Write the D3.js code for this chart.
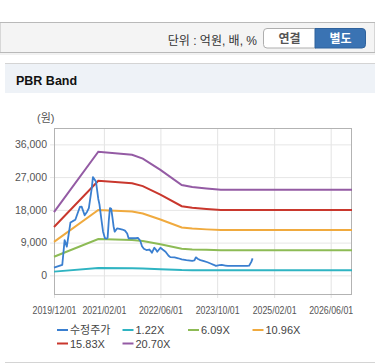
<!DOCTYPE html>
<html>
<head>
<meta charset="utf-8">
<script src="https://cdn.jsdelivr.net/npm/d3@7"></script>
<style>
  body { margin: 0; background: #fff; }
  svg { display: block; font-family: "Liberation Sans", "Noto Sans CJK KR", sans-serif; }
</style>
</head>
<body>
<svg width="375" height="364"></svg>
<script>
// price (수정주가)
const priceDates = ["2019/12/01","2020/01/15","2020/02/10","2020/03/01","2020/03/20","2020/04/20","2020/05/10",
  "2020/06/01","2020/06/20","2020/07/10","2020/07/25","2020/08/20","2020/09/10","2020/09/25","2020/10/20",
  "2020/10/30","2020/11/25","2020/12/15","2020/12/25","2021/01/10","2021/01/25","2021/02/10","2021/02/25",
  "2021/03/05","2021/03/15","2021/03/25","2021/04/05","2021/04/15","2021/04/25","2021/05/05","2021/05/25",
  "2021/06/15","2021/07/10","2021/08/01","2021/08/20","2021/09/01","2021/10/01","2021/11/01","2021/11/20",
  "2021/12/10","2021/12/25","2022/01/10","2022/02/01","2022/02/25","2022/03/10","2022/03/20","2022/04/10",
  "2022/04/25","2022/05/05","2022/06/01","2022/06/20","2022/07/15","2022/08/10","2022/08/25","2022/10/01",
  "2022/11/01","2022/12/01","2023/01/10","2023/03/01","2023/03/20","2023/04/01","2023/04/20","2023/05/10",
  "2023/06/10","2023/07/10","2023/08/10","2023/09/01","2023/09/20","2023/10/20","2023/11/10","2023/12/10",
  "2024/01/01","2024/03/01","2024/05/01","2024/06/15","2024/07/01","2024/07/20","2024/07/31"];
const priceValues = [2100,2600,2900,9700,7900,14500,14900,
  15300,17000,18800,18900,16500,17500,18500,24000,
  27000,25800,21000,19500,15500,12000,10200,10100,
  10300,15000,18500,18300,16000,13500,12000,12900,
  12800,12600,12300,11500,10200,10200,10200,10300,
  9500,8000,7300,6950,7100,6700,6200,7600,
  7000,6500,7600,7100,6500,5400,5000,4950,
  4700,4400,4200,4000,4100,4950,4500,4200,
  3900,3600,3200,2900,2600,2800,2850,2700,
  2600,2600,2600,2600,2650,3700,4670];

// PBR bands
const bandDates = ["2019/12/01","2020/12/15","2021/10/01","2022/01/01","2022/06/01","2022/12/01",
  "2023/03/01","2023/07/01","2023/11/01","2026/12/01"];
const band122 = [1025, 2002, 1952, 1891, 1708, 1464, 1430, 1407, 1385, 1385];
const band609 = [5116, 9994, 9744, 9440, 8526, 7308, 7137, 7022, 6912, 6912];
const band1096 = [9206, 17985, 17536, 16988, 15344, 13152, 12845, 12637, 12440, 12440];
const band1583 = [13297, 25977, 25328, 24537, 22162, 18996, 18553, 18252, 17967, 17967];
const band2070 = [17388, 33969, 33120, 32085, 28980, 24840, 24260, 23867, 23495, 23495];

const seriesNames = ["수정주가", "1.22X", "6.09X", "10.96X", "15.83X", "20.70X"];
const seriesColors = ["#3a7fd0", "#2fb4c2", "#8dbb55", "#f0aa3e", "#c9372d", "#945ba4"];

const yTicks = [0, 9000, 18000, 27000, 36000];
const xTicks = ["2019/12/01","2021/02/01","2022/06/01","2023/10/01","2025/02/01","2026/06/01"];

const parse = d3.timeParse("%Y/%m/%d");
const svg = d3.select("svg");

// top toolbar
svg.append("rect").attr("x", 0).attr("y", 22.5).attr("width", 375).attr("height", 30)
  .attr("fill", "#f4f4f4").attr("stroke", "#b9b9b9");
svg.append("line").attr("x1", 0).attr("x2", 375).attr("y1", 54).attr("y2", 54).attr("stroke", "#e4e4e4");
svg.append("text").attr("x", 257).attr("y", 44.5).attr("text-anchor", "end")
  .style("font-size", "12px").attr("fill", "#333").text("단위 : 억원, 배, %");
svg.append("path")
  .attr("d", "M316,28.5 H267 Q263.5,28.5 263.5,32 V44.5 Q263.5,48 267,48 H316 Z")
  .attr("fill", "#fff").attr("stroke", "#aeaeae");
svg.append("path")
  .attr("d", "M315,28.5 H362 Q365.5,28.5 365.5,32 V44.5 Q365.5,48 362,48 H315 Z")
  .attr("fill", "#3a73b3").attr("stroke", "#2f629c");
svg.append("text").attr("x", 289.5).attr("y", 42.5).attr("text-anchor", "middle")
  .style("font-size", "12px").style("font-weight", "bold").attr("fill", "#555").text("연결");
svg.append("text").attr("x", 340.5).attr("y", 42.5).attr("text-anchor", "middle")
  .style("font-size", "12px").style("font-weight", "bold").attr("fill", "#fff").text("별도");

// panel
svg.append("rect").attr("x", 5).attr("y", 64).attr("width", 370).attr("height", 29).attr("fill", "#eef2f7");
svg.append("line").attr("x1", 5).attr("x2", 375).attr("y1", 63.5).attr("y2", 63.5).attr("stroke", "#d4d4d4");
svg.append("line").attr("x1", 5).attr("x2", 375).attr("y1", 362.5).attr("y2", 362.5).attr("stroke", "#d4d4d4");
svg.append("text").attr("x", 16).attr("y", 85).style("font-size", "12.5px").style("font-weight", "bold")
  .attr("fill", "#111").text("PBR Band");

const plot = { left: 54, right: 352, top: 128, bottom: 295 };

const x_scale = d3.scaleTime()
  .domain([parse("2019/12/01"), parse("2026/12/01")])
  .range([plot.left, plot.right]);
const y_scale = d3.scaleLinear()
  .domain([-5400, 40500])
  .range([plot.bottom, plot.top]);

// grid + axes
const x_axis = d3.axisBottom(x_scale)
  .tickValues(xTicks.map(parse))
  .tickFormat(d3.timeFormat("%Y/%m/%d"))
  .tickSize(-(plot.bottom - plot.top) - 3)
  .tickPadding(9);
const gx = svg.append("g").attr("transform", `translate(0,${plot.bottom + 3})`).call(x_axis);
gx.select(".domain").remove();
gx.selectAll("line").attr("stroke", "#e3e3e3");
gx.selectAll("text").attr("fill", "#555").style("font-size", "10px")
  .attr("textLength", 44).attr("lengthAdjust", "spacingAndGlyphs");

const y_axis = d3.axisLeft(y_scale)
  .tickValues(yTicks)
  .tickFormat(d3.format(","))
  .tickSize(-(plot.right - plot.left) - 4)
  .tickPadding(3);
const gy = svg.append("g").attr("transform", `translate(${plot.left - 4},0)`).call(y_axis);
gy.select(".domain").remove();
gy.selectAll("line").attr("stroke", "#e6e6e6");
gy.selectAll("text").attr("fill", "#555").style("font-size", "10.5px");

svg.append("rect")
  .attr("x", plot.left + 0.5).attr("y", plot.top + 0.5)
  .attr("width", plot.right - plot.left - 1).attr("height", plot.bottom - plot.top - 1)
  .attr("fill", "none").attr("stroke", "#b3b3b3");

svg.append("text").attr("x", 37).attr("y", 122).style("font-size", "11px")
  .attr("fill", "#555").text("(원)");

// lines
const line_generator = d3.line()
  .x((d) => x_scale(d.date))
  .y((d) => y_scale(d.value));

const bands = [band122, band609, band1096, band1583, band2070];
bands.forEach((vals, i) => {
  const data = bandDates.map((d, j) => ({ date: parse(d), value: vals[j] }));
  svg.append("path")
    .attr("fill", "none")
    .attr("stroke", seriesColors[i + 1])
    .attr("stroke-width", 2)
    .attr("d", line_generator(data));
});

const priceData = priceDates.map((d, j) => ({ date: parse(d), value: priceValues[j] }));
svg.append("path")
  .attr("fill", "none")
  .attr("stroke", seriesColors[0])
  .attr("stroke-width", 1.8)
  .attr("stroke-linejoin", "round")
  .attr("d", line_generator(priceData));

// legend
const legendX = [57, 122.5, 188, 252.5];
const legend = svg.append("g");
seriesNames.forEach((name, i) => {
  const lx = legendX[i % 4];
  const ly = 330 + Math.floor(i / 4) * 13.5;
  legend.append("line").attr("x1", lx).attr("x2", lx + 11).attr("y1", ly).attr("y2", ly)
    .attr("stroke", seriesColors[i]).attr("stroke-width", 2);
  legend.append("text").attr("x", lx + 13).attr("y", ly + 4)
    .style("font-size", "11px").attr("fill", "#444").text(name);
});
</script>
</body>
</html>
